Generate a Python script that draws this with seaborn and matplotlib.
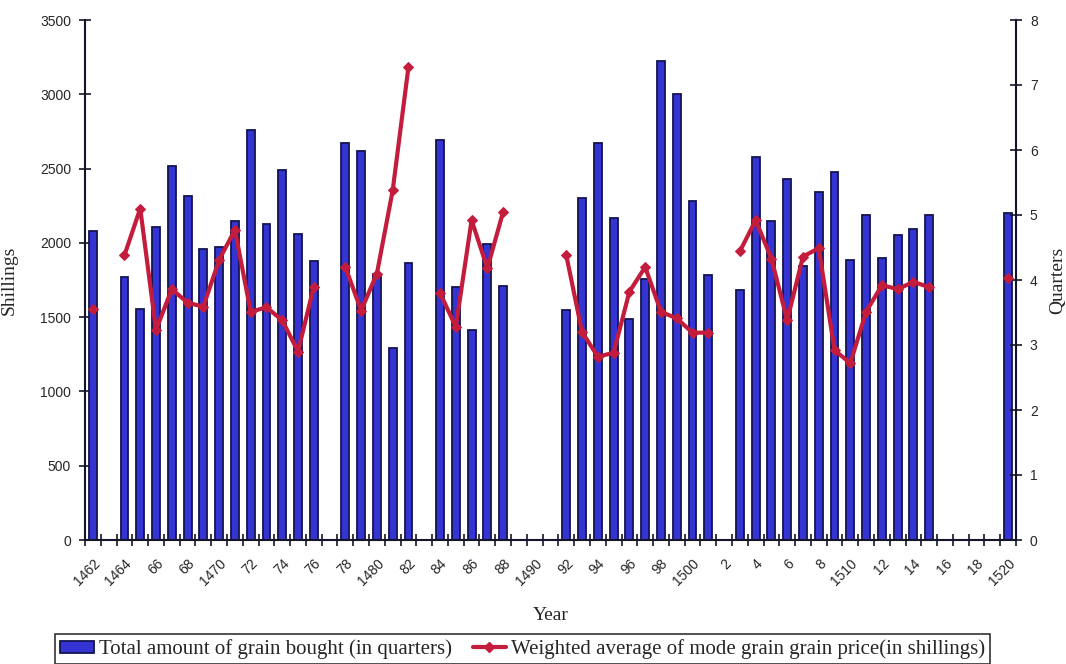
import numpy as np
import pandas as pd
import matplotlib
matplotlib.use("Agg")
import matplotlib.pyplot as plt
import seaborn as sns
from matplotlib.patches import Patch
from matplotlib.lines import Line2D

# ---------------- data ----------------
years = list(range(1462, 1521))
grain_bought = [2080, np.nan, 1770, 1555, 2110, 2515, 2315, 1960, 1975, 2150,
                2760, 2130, 2490, 2060, 1880, np.nan, 2670, 2620, 1790, 1290,
                1865, np.nan, 2690, 1700, 1415, 1995, 1710, np.nan, np.nan, np.nan,
                1550, 2300, 2675, 2170, 1490, 1760, 3225, 3000, 2285, 1785,
                np.nan, 1680, 2580, 2150, 2430, 1845, 2340, 2475, 1885, 2190,
                1900, 2050, 2090, 2190, np.nan, np.nan, np.nan, np.nan, 2200]
price = [3.55, np.nan, 4.38, 5.10, 3.23, 3.86, 3.65, 3.59, 4.31, 4.77,
         3.51, 3.58, 3.38, 2.90, 3.90, np.nan, 4.20, 3.53, 4.10, 5.38,
         7.28, np.nan, 3.80, 3.28, 4.92, 4.18, 5.05, np.nan, np.nan, np.nan,
         4.38, 3.20, 2.82, 2.88, 3.82, 4.20, 3.51, 3.41, 3.19, 3.19,
         np.nan, 4.44, 4.92, 4.33, 3.38, 4.36, 4.49, 2.92, 2.72, 3.51,
         3.92, 3.86, 3.97, 3.89, np.nan, np.nan, np.nan, np.nan, 4.03]
tick_labels = ["1462", "1464", "66", "68", "1470", "72", "74", "76", "78", "1480",
               "82", "84", "86", "88", "1490", "92", "94", "96", "98", "1500",
               "2", "4", "6", "8", "1510", "12", "14", "16", "18", "1520"]
left_label = "Shillings"
right_label = "Quarters"
x_label = "Year"
bar_name = "Total amount of grain bought (in quarters)"
line_name = "Weighted average of mode grain grain price(in shillings)"

# ---------------- frames ----------------
year_str = [str(y) for y in years]
bars_df = pd.DataFrame({"year": year_str, "value": grain_bought}).dropna()

# line segments (gaps where data missing)
pos = np.arange(len(years))
seg = np.cumsum(np.isnan(np.array(price, dtype=float)))
line_df = pd.DataFrame({"pos": pos, "price": price, "seg": seg}).dropna()

# ---------------- style ----------------
sns.set_style("ticks")
plt.rcParams["font.family"] = ["Liberation Sans", "DejaVu Sans"]
serif = ["Liberation Serif", "DejaVu Serif"]

BAR_FILL = "#3434d2"
BAR_EDGE = "#141450"
LINE_C = "#c41c3c"
AX_C = "#15152a"

fig = plt.figure(figsize=(10.66, 6.64), dpi=100)
fig.patch.set_facecolor("white")
ax = fig.add_axes([85 / 1066, 124 / 664, (1016 - 85) / 1066, 520 / 664])

sns.barplot(data=bars_df, x="year", y="value", order=year_str, ax=ax,
            color=BAR_FILL, edgecolor=BAR_EDGE, linewidth=1.3, width=0.5,
            saturation=1, errorbar=None)

ax2 = ax.twinx()
sns.lineplot(data=line_df, x="pos", y="price", units="seg", estimator=None,
             ax=ax2, color=LINE_C, linewidth=3, marker="D", markersize=5,
             markeredgecolor=LINE_C, legend=False)

# ---------------- axes ----------------
ax.set_xlim(-0.5, len(years) - 0.5)
ax.set_ylim(0, 3500)
ax2.set_ylim(0, 8)
ax.set_yticks(np.arange(0, 3501, 500))
ax2.set_yticks(np.arange(0, 9, 1))

ax.set_xticks(np.arange(0, len(years), 2))
ax.set_xticklabels(tick_labels, rotation=45, ha="right", rotation_mode="anchor",
                   fontsize=10)
ax.set_xticks(np.arange(-0.5, len(years), 1), minor=True)
ax.tick_params(axis="x", which="major", length=0, pad=12)
ax.tick_params(axis="x", which="minor", length=8, width=1.2, direction="inout",
               color=AX_C)
ax.tick_params(axis="y", length=8, width=1.2, direction="inout", color=AX_C,
               labelsize=10, pad=6)
ax2.tick_params(axis="y", length=8, width=1.2, direction="inout", color=AX_C,
                labelsize=10, pad=6)
ax2.set_xlim(-0.5, len(years) - 0.5)

for a in (ax, ax2):
    a.spines["top"].set_visible(False)
    for s in ("left", "right", "bottom"):
        a.spines[s].set_color(AX_C)
        a.spines[s].set_linewidth(1.5)
ax.spines["right"].set_visible(False)
ax2.spines["left"].set_visible(False)
ax2.spines["bottom"].set_visible(False)

ax.set_xlabel(x_label, fontsize=14, family=serif)
ax.xaxis.set_label_coords(0.5, -0.128)
ax.set_ylabel(left_label, fontsize=14, family=serif)
ax.yaxis.set_label_coords(-0.072, 0.5)
ax2.set_ylabel(right_label, fontsize=14, family=serif, rotation=90)
ax2.yaxis.set_label_coords(1.036, 0.5)

# ---------------- legend ----------------
handles = [Patch(facecolor=BAR_FILL, edgecolor=BAR_EDGE, linewidth=1.3),
           Line2D([0], [0], color=LINE_C, linewidth=3, marker="D", markersize=5)]
leg = fig.legend(handles, [bar_name, line_name], loc="upper left",
                 bbox_to_anchor=(55 / 1066, 1 - 634 / 664), ncol=2,
                 frameon=True, fancybox=False, edgecolor="black",
                 prop={"family": serif, "size": 15}, handlelength=1.6,
                 handleheight=0.5, handletextpad=0.25, columnspacing=1.0,
                 borderpad=0.25, borderaxespad=0)
leg.get_frame().set_linewidth(1.2)

fig.savefig("out.png", dpi=100, facecolor="white")
